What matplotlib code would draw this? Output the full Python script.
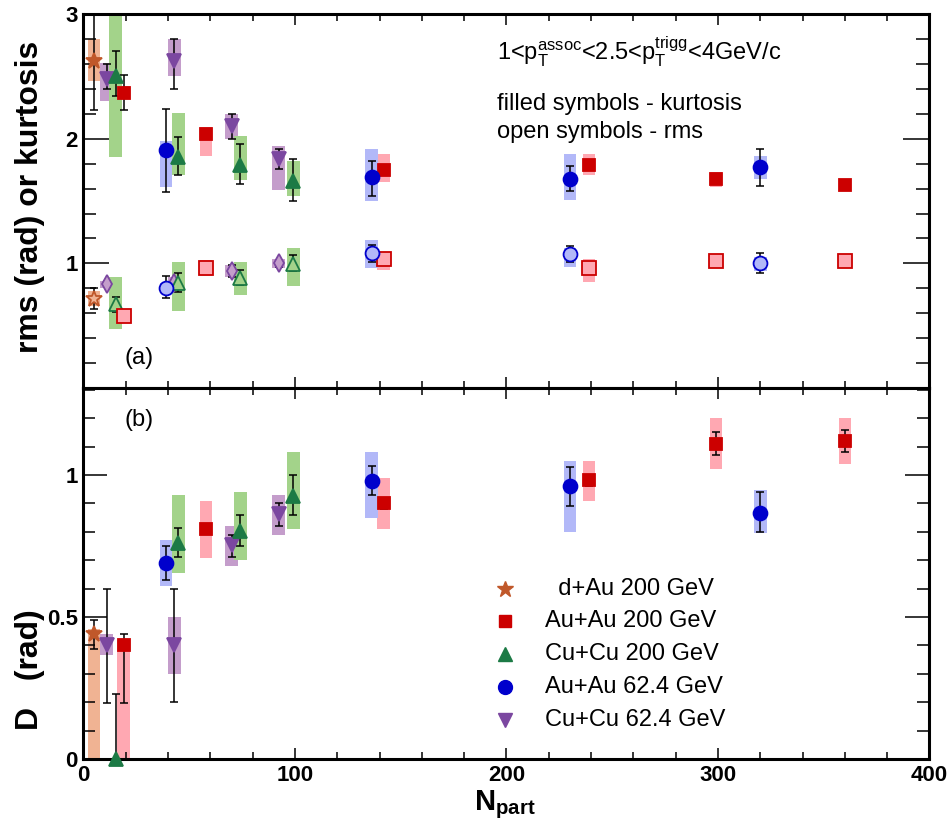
import matplotlib
matplotlib.use('Agg')

import matplotlib.pyplot as plt
import numpy as np
from matplotlib.ticker import MultipleLocator

plt.rcParams['font.family'] = ['Liberation Sans', 'DejaVu Sans']
plt.rcParams['mathtext.fontset'] = 'custom'
plt.rcParams['mathtext.rm'] = 'Liberation Sans'
plt.rcParams['mathtext.bf'] = 'Liberation Sans:bold'
plt.rcParams['mathtext.it'] = 'Liberation Sans:italic'

# ---- data: value, stat range (lo, hi), syst box range (lo, hi) ----
# d+Au 200 GeV
npart_dau = [5.0]
kurt_dau = [2.62]
kurt_stat_dau = [(2.23, 2.99)]
kurt_sys_dau = [(2.46, 2.80)]
rms_dau = [0.717]
rms_stat_dau = [(0.63, 0.80)]
rms_sys_dau = [(0.66, 0.78)]
d_dau = [0.439]
d_stat_dau = [(0.388, 0.49)]
d_sys_dau = [(0.0, 0.458)]

# Au+Au 200 GeV
npart_auau200 = [19.0, 58.0, 142.0, 239.0, 299.0, 360.0]
kurt_auau200 = [2.37, 2.04, 1.75, 1.79, 1.675, 1.63]
kurt_stat_auau200 = [(2.23, 2.51), (2.02, 2.06), (1.73, 1.77), (1.77, 1.81), (1.66, 1.69), (1.59, 1.67)]
kurt_sys_auau200 = [(2.32, 2.42), (1.86, 2.09), (1.65, 1.88), (1.71, 1.88), (1.61, 1.73), (1.59, 1.67)]
rms_auau200 = [0.578, 0.96, 1.037, 0.965, 1.016, 1.016]
rms_stat_auau200 = [(0.57, 0.59), (0.95, 0.97), (1.03, 1.05), (0.955, 0.975), (1.005, 1.025), (1.005, 1.025)]
rms_sys_auau200 = [(0.54, 0.61), (0.90, 1.03), (0.95, 1.083), (0.853, 1.035), (0.966, 1.066), (0.966, 1.066)]
d_auau200 = [0.40, 0.81, 0.90, 0.981, 1.11, 1.12]
d_stat_auau200 = [(0.198, 0.44), (0.80, 0.82), (0.88, 0.92), (0.96, 1.0), (1.07, 1.15), (1.08, 1.16)]
d_sys_auau200 = [(0.0, 0.419), (0.708, 0.908), (0.81, 0.99), (0.91, 1.05), (1.02, 1.20), (1.04, 1.20)]

# Cu+Cu 200 GeV
npart_cucu200 = [15.2, 44.8, 74.1, 99.2]
kurt_cucu200 = [2.50, 1.85, 1.79, 1.66]
kurt_stat_cucu200 = [(2.34, 2.70), (1.71, 2.01), (1.64, 1.96), (1.50, 1.84)]
kurt_sys_cucu200 = [(1.85, 3.0), (1.71, 2.21), (1.67, 2.02), (1.54, 1.82)]
rms_cucu200 = [0.672, 0.845, 0.885, 0.997]
rms_stat_cucu200 = [(0.61, 0.73), (0.77, 0.92), (0.825, 0.945), (0.94, 1.07)]
rms_sys_cucu200 = [(0.47, 0.89), (0.62, 1.01), (0.75, 1.01), (0.82, 1.12)]
d_cucu200 = [0.0, 0.762, 0.803, 0.926]
d_stat_cucu200 = [(0.0, 0.23), (0.71, 0.815), (0.75, 0.86), (0.86, 1.0)]
d_sys_cucu200 = [(0.0, 0.0), (0.656, 0.93), (0.70, 0.94), (0.81, 1.08)]

# Au+Au 62.4 GeV
npart_auau62 = [39.0, 136.3, 230.0, 320.0]
kurt_auau62 = [1.91, 1.69, 1.68, 1.77]
kurt_stat_auau62 = [(1.57, 2.24), (1.54, 1.82), (1.58, 1.78), (1.62, 1.92)]
kurt_sys_auau62 = [(1.61, 1.98), (1.50, 1.92), (1.51, 1.88), (1.68, 1.86)]
rms_auau62 = [0.80, 1.083, 1.077, 1.0]
rms_stat_auau62 = [(0.72, 0.90), (1.008, 1.15), (1.01, 1.14), (0.92, 1.08)]
rms_sys_auau62 = [(0.76, 0.84), (0.965, 1.19), (0.97, 1.12), (0.94, 1.05)]
d_auau62 = [0.691, 0.98, 0.96, 0.867]
d_stat_auau62 = [(0.63, 0.75), (0.93, 1.03), (0.89, 1.027), (0.80, 0.94)]
d_sys_auau62 = [(0.61, 0.77), (0.85, 1.08), (0.80, 1.05), (0.797, 0.947)]

# Cu+Cu 62.4 GeV
npart_cucu62 = [11.0, 43.0, 70.1, 92.3]
kurt_cucu62 = [2.48, 2.62, 2.10, 1.84]
kurt_stat_cucu62 = [(2.40, 2.60), (2.40, 2.80), (2.00, 2.20), (1.76, 1.92)]
kurt_sys_cucu62 = [(2.30, 2.61), (2.50, 2.80), (2.00, 2.20), (1.59, 1.94)]
rms_cucu62 = [0.832, 0.845, 0.94, 1.0]
rms_stat_cucu62 = [(0.81, 0.855), (0.82, 0.87), (0.89, 0.99), (0.97, 1.03)]
rms_sys_cucu62 = [(0.80, 0.86), (0.80, 0.89), (0.89, 0.99), (0.965, 1.035)]
d_cucu62 = [0.401, 0.401, 0.754, 0.862]
d_stat_cucu62 = [(0.198, 0.60), (0.20, 0.60), (0.71, 0.79), (0.82, 0.90)]
d_sys_cucu62 = [(0.366, 0.44), (0.30, 0.50), (0.68, 0.82), (0.79, 0.93)]

legend_labels = ['  d+Au 200 GeV', 'Au+Au 200 GeV', 'Cu+Cu 200 GeV', 'Au+Au 62.4 GeV', 'Cu+Cu 62.4 GeV']

# styles
DAU = dict(color='#C0582A', box='#F0B393', marker='*', ms=12)
AUAU200 = dict(color='#CC0000', box='#FFA8B2', marker='s', ms=9)
CUCU200 = dict(color='#1C7A45', box='#A3D38A', marker='^', ms=10.5)
AUAU62 = dict(color='#0000CC', box='#B2B8F8', marker='o', ms=10)
CUCU62 = dict(color='#7B47A0', box='#C49DCB', marker='v', ms=10.5)
BOX_W = 6.0


def draw_series(ax, x, y, stat, sys, style, filled=True, marker=None, ms=None):
  x = np.asarray(x)
  y = np.asarray(y)
  lo = np.array([s[0] for s in sys])
  hi = np.array([s[1] for s in sys])
  ax.bar(x, hi - lo, bottom=lo, width=BOX_W, color=style['box'], linewidth=0, zorder=1)
  slo = np.array([s[0] for s in stat])
  shi = np.array([s[1] for s in stat])
  ax.errorbar(x, y, yerr=[y - slo, shi - y], fmt='none', ecolor='black',
              elinewidth=1.1, capsize=2.8, capthick=1.1, zorder=2)
  # open symbols: coloured outline, interior shows the light syst colour
  ax.plot(x, y, linestyle='none', marker=marker or style['marker'], ms=ms or style['ms'],
          mfc=style['color'] if filled else style['box'], mec=style['color'], mew=1.3,
          zorder=3, clip_on=False)


def style_axes(ax, ymajor, yminor, ylen):
  ax.set_xlim(0, 400)
  ax.xaxis.set_major_locator(MultipleLocator(100))
  ax.xaxis.set_minor_locator(MultipleLocator(20))
  ax.yaxis.set_major_locator(MultipleLocator(ymajor))
  ax.yaxis.set_minor_locator(MultipleLocator(yminor))
  for side in ax.spines.values():
    side.set_linewidth(2.2)
  ax.tick_params(axis='both', which='both', direction='in', top=True, right=True, width=1.1)
  ax.tick_params(axis='x', which='major', length=8)
  ax.tick_params(axis='x', which='minor', length=5)
  ax.tick_params(axis='y', which='major', length=ylen)
  ax.tick_params(axis='y', which='minor', length=ylen / 2)
  ax.tick_params(axis='both', labelsize=16, pad=4)


fig = plt.figure(figsize=(9.53, 8.27), dpi=100)
ax_top = fig.add_axes([0.0876, 0.5308, 0.8877, 0.4522])
ax_bot = fig.add_axes([0.0876, 0.0822, 0.8877, 0.4486])

# top panel: kurtosis (filled) and rms (open)
draw_series(ax_top, npart_dau, kurt_dau, kurt_stat_dau, kurt_sys_dau, DAU)
draw_series(ax_top, npart_cucu62, kurt_cucu62, kurt_stat_cucu62, kurt_sys_cucu62, CUCU62)
draw_series(ax_top, npart_cucu200, kurt_cucu200, kurt_stat_cucu200, kurt_sys_cucu200, CUCU200)
draw_series(ax_top, npart_auau200, kurt_auau200, kurt_stat_auau200, kurt_sys_auau200, AUAU200)
draw_series(ax_top, npart_auau62, kurt_auau62, kurt_stat_auau62, kurt_sys_auau62, AUAU62)

draw_series(ax_top, npart_dau, rms_dau, rms_stat_dau, rms_sys_dau, DAU, filled=False)
draw_series(ax_top, npart_cucu62, rms_cucu62, rms_stat_cucu62, rms_sys_cucu62, CUCU62, filled=False, marker='d', ms=9)
draw_series(ax_top, npart_cucu200, rms_cucu200, rms_stat_cucu200, rms_sys_cucu200, CUCU200, filled=False)
draw_series(ax_top, npart_auau200, rms_auau200, rms_stat_auau200, rms_sys_auau200, AUAU200, filled=False, ms=10)
draw_series(ax_top, npart_auau62, rms_auau62, rms_stat_auau62, rms_sys_auau62, AUAU62, filled=False)

ax_top.set_ylim(0, 3)
style_axes(ax_top, 1, 0.2, 19)
ax_top.set_yticks([1, 2, 3])
ax_top.set_yticklabels(['1', '2', '3'], fontweight='bold', fontsize=16)
ax_top.tick_params(axis='x', labelbottom=False)

ax_top.text(0.489, 0.898, r'1<p$_{\rm T}^{\rm assoc}$<2.5<p$_{\rm T}^{\rm trigg}$<4GeV/c',
            transform=ax_top.transAxes, fontsize=17, ha='left', va='center')
ax_top.text(0.489, 0.759, 'filled symbols - kurtosis', transform=ax_top.transAxes,
            fontsize=17, ha='left', va='center')
ax_top.text(0.489, 0.684, 'open symbols - rms', transform=ax_top.transAxes,
            fontsize=17, ha='left', va='center')
ax_top.text(0.049, 0.08, '(a)', transform=ax_top.transAxes, fontsize=17, ha='left', va='center')

# bottom panel: D
draw_series(ax_bot, npart_dau, d_dau, d_stat_dau, d_sys_dau, DAU)
draw_series(ax_bot, npart_cucu62, d_cucu62, d_stat_cucu62, d_sys_cucu62, CUCU62)
draw_series(ax_bot, npart_cucu200, d_cucu200, d_stat_cucu200, d_sys_cucu200, CUCU200)
draw_series(ax_bot, npart_auau200, d_auau200, d_stat_auau200, d_sys_auau200, AUAU200)
draw_series(ax_bot, npart_auau62, d_auau62, d_stat_auau62, d_sys_auau62, AUAU62)

ax_bot.set_ylim(0, 1.306)
style_axes(ax_bot, 0.5, 0.1, 17)
ax_bot.set_yticks([0, 0.5, 1])
ax_bot.set_yticklabels(['0', '0.5', '1'], fontweight='bold', fontsize=16)
ax_bot.set_xticks([0, 100, 200, 300, 400])
ax_bot.set_xticklabels(['0', '100', '200', '300', '400'], fontweight='bold', fontsize=16)
ax_bot.text(0.049, 0.914, '(b)', transform=ax_bot.transAxes, fontsize=17, ha='left', va='center')

# legend drawn by hand, ROOT style
leg_y = [0.458, 0.373, 0.283, 0.195, 0.105]
for i, st in enumerate([DAU, AUAU200, CUCU200, AUAU62, CUCU62]):
  ax_bot.plot([0.498], [leg_y[i]], transform=ax_bot.transAxes, linestyle='none',
              marker=st['marker'], ms=st['ms'], color=st['color'], clip_on=False)
  ax_bot.text(0.5455, leg_y[i], legend_labels[i], transform=ax_bot.transAxes,
              fontsize=17, ha='left', va='center')

fig.text(0.031, 0.762, 'rms (rad) or kurtosis', rotation=90, fontsize=23,
         fontweight='bold', ha='center', va='center')
fig.text(0.031, 0.19, 'D   (rad)', rotation=90, fontsize=23,
         fontweight='bold', ha='center', va='center')
fig.text(0.530, 0.027, r'$\mathbf{N_{part}}$', fontsize=21, ha='center', va='center')

fig.savefig('out.png', dpi=100)
